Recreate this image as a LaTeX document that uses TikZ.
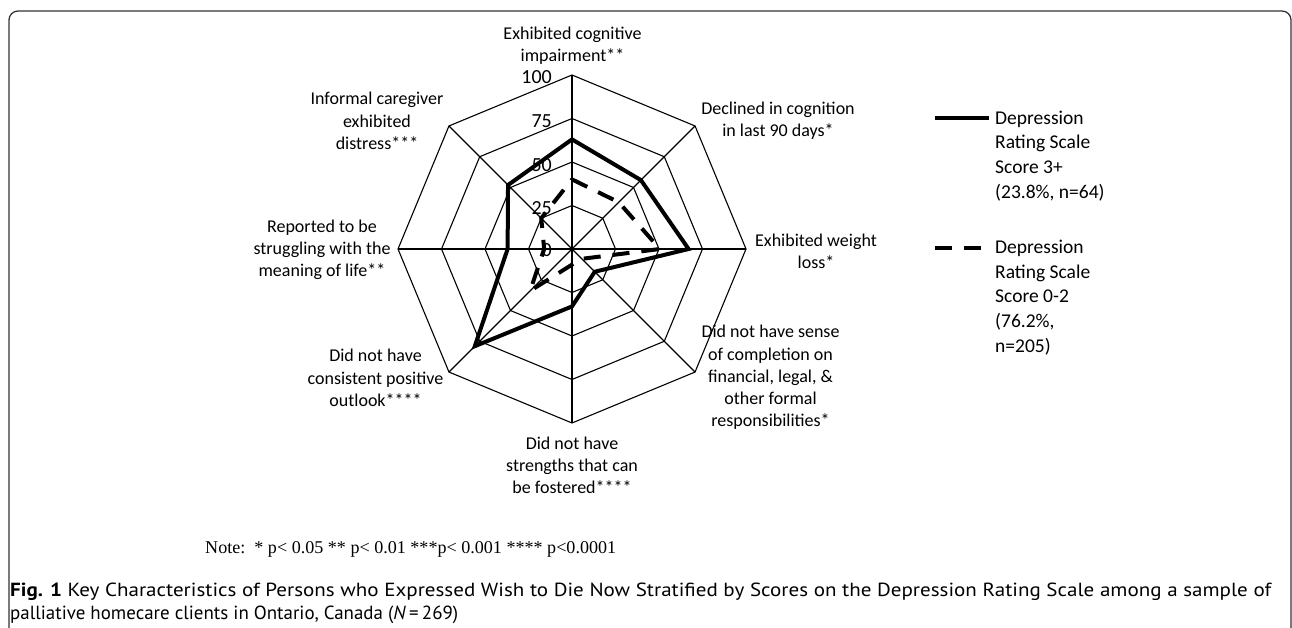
\documentclass[tikz,border=0pt]{standalone}
\usepackage{fontspec}
\usepackage{graphicx}
\setmainfont{Carlito}
\newfontfamily\notefont{Liberation Serif}
\newfontfamily\capfont{PT Sans}
\begin{document}
\begin{tikzpicture}[x=1pt,y=-1pt,
  gridline/.style={draw=black, line width=1.1pt},
  solidser/.style={draw=black, line width=4pt},
  dashser/.style={draw=black, line width=4pt, dash pattern=on 17pt off 12pt},
  axlabel/.style={font=\fontsize{18}{22.2}\selectfont, align=center, inner sep=0pt},
  tick/.style={font=\fontsize{20}{24}\selectfont, inner sep=0pt, anchor=east},
  legtext/.style={font=\fontsize{19.5}{24.6}\selectfont, align=left, inner sep=0pt, anchor=west},
  framec/.style={draw=black!80, line width=1.3pt, rounded corners=9pt}]
\useasboundingbox (0,0) rectangle (1292,628);
\draw[framec] (9,11) rectangle (1291,680);

\coordinate (C) at (572,249);
% vertices of outer ring
\foreach \a/\n in {90/1,45/2,0/3,-45/4,-90/5,-135/6,180/7,135/8}
  \coordinate (V\n) at ({572+174*cos(\a)},{249-174*sin(\a)});
% rings
\foreach \f in {0.25,0.5,0.75,1}{
  \draw[gridline] ({572+\f*174},249)
    \foreach \a in {45,90,...,315}{ -- ({572+\f*174*cos(\a)},{249-\f*174*sin(\a)}) } -- cycle;
}
% spokes
\foreach \n in {1,...,8} \draw[gridline] (C) -- (V\n);

% tick labels
\node[tick] (t100) at (552,77.5) {100};
\node[tick] (t75) at (552,121) {75};
\node[tick] (t50) at (552,165) {50};
\node[tick] (t25) at (552,208) {25};
\node[tick] (t0) at (552,250) {0};

% series
\foreach \a/\v/\n in {90/63/1,45/56/2,0/67/3,-45/18.5/4,-90/33/5,-135/79/6,180/37/7,135/52/8}
  \coordinate (S\n) at ({572+1.74*\v*cos(\a)},{249-1.74*\v*sin(\a)});
\foreach \a/\v/\n in {90/40/1,45/38/2,0/50.5/3,-45/8/4,-90/9/5,-135/34/6,180/16/7,135/25/8}
  \coordinate (D\n) at ({572+1.74*\v*cos(\a)},{249-1.74*\v*sin(\a)});
\draw[solidser] (S1)--(S2)--(S3)--(S4)--(S5)--(S6)--(S7)--(S8)--cycle;
\draw[dashser] (D1)--(D2)--(D3)--(D4)--(D5)--(D6)--(D7)--(D8)--cycle;

% axis labels
\node[axlabel] (L1) at (572.5,46) {Exhibited cognitive\\impairment**};
\node[axlabel] (L2) at (778,121) {Declined in cognition\\in last 90 days*};
\node[axlabel] (L3) at (816,251) {Exhibited weight\\loss*};
\node[axlabel] (L4) at (770.5,377.5) {Did not have sense\\of completion on\\financial, legal, \&\\other formal\\responsibilities*};
\node[axlabel] (L5) at (572,465.5) {Did not have\\strengths that can\\be fostered****};
\node[axlabel] (L6) at (375.5,378) {Did not have\\consistent positive\\outlook****};
\node[axlabel] (L7) at (322,250) {Reported to be\\struggling with the\\meaning of life**};
\node[axlabel] (L8) at (377,121) {Informal caregiver\\exhibited\\distress***};

% legend
\coordinate (la1) at (935,118.3);
\coordinate (lb1) at (989,118.3);
\draw[solidser] (la1) -- (lb1);
\node[legtext] (leg1) at (995,155.8) {Depression\\Rating Scale\\Score 3+\\(23.8\%, n=64)};
\coordinate (la2) at (935,248.3);
\coordinate (lb2) at (982,248.3);
\draw[dashser] (la2) -- (lb2);
\node[legtext] (leg2) at (995,297.5) {Depression\\Rating Scale\\Score 0-2\\(76.2\%,\\n=205)};

% note
\node[inner sep=0pt, anchor=west] (note) at (205,549)
  {\resizebox{411pt}{\height}{\notefont\fontsize{18}{21}\selectfont Note:\ \ * p< 0.05 ** p< 0.01 ***p< 0.001 **** p<0.0001}};

% caption
\node[inner sep=0pt, anchor=base west] (cap1) at (10,596)
  {\resizebox{1261pt}{\height}{\capfont\fontsize{19}{24}\selectfont\textbf{Fig. 1} Key Characteristics of Persons who Expressed Wish to Die Now Stratified by Scores on the Depression Rating Scale among a sample of}};
\node[inner sep=0pt, anchor=base west] (cap2) at (10,619)
  {\resizebox{448pt}{\height}{\capfont\fontsize{19}{24}\selectfont palliative homecare clients in Ontario, Canada (\textit{N}\,=\,269)}};
\end{tikzpicture}
\end{document}
